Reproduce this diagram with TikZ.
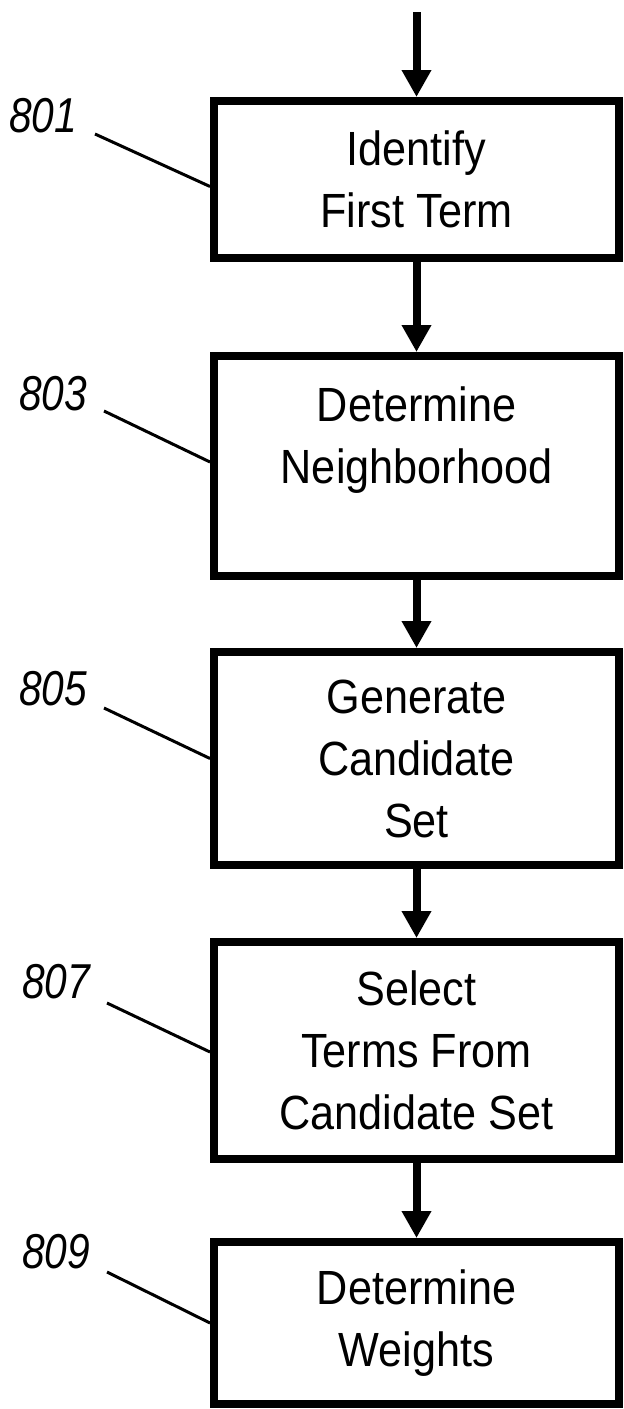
\documentclass[tikz,border=0pt]{standalone}
\usepackage{fontspec}
\setmainfont{Liberation Sans}
\newfontfamily\boxfont[FakeStretch=0.9]{Liberation Sans}
\newfontfamily\numfont[FakeStretch=0.83]{Liberation Sans}
\usetikzlibrary{arrows.meta}

\begin{document}
\begin{tikzpicture}[x=1pt,y=-1pt,
  stepbox/.style={draw=black, line width=8pt, minimum width=405pt, inner sep=0pt,
    align=center, font=\boxfont\fontsize{48}{62}\selectfont},
  flow/.style={line width=8pt, -{Triangle[width=28pt 0 0,length=27pt 0 0]}},
  leader/.style={line width=3pt},
  refnum/.style={font=\numfont\itshape\fontsize{49}{59}\selectfont, anchor=base, inner sep=0pt}]
\useasboundingbox (0,0) rectangle (624,1409);

% process steps
\node[stepbox, minimum height=157pt] (b1) at (416.5,179.5) {Identify\\First Term};
\node[stepbox, minimum height=220pt] (b2) at (416.5,466) {Determine\\Neighborhood\\\mbox{}};
\node[stepbox, minimum height=213pt] (b3) at (416.5,758.5) {Generate\\Candidate\\Set};
\node[stepbox, minimum height=217pt] (b4) at (416.5,1050.5) {Select\\Terms From\\Candidate Set};
\node[stepbox, minimum height=162pt] (b5) at (416.5,1323) {Determine\\Weights};

% flow arrows
\coordinate (entry) at (416.5,12);
\draw[flow] (entry) -- (b1.north);
\draw[flow] (b1) -- (b2);
\draw[flow] (b2) -- (b3);
\draw[flow] (b3) -- (b4);
\draw[flow] (b4) -- (b5);

% reference numerals with leader lines
\node[refnum] (r1) at (43,132) {801};
\node[refnum] (r2) at (53,410) {803};
\node[refnum] (r3) at (53,705) {805};
\node[refnum] (r4) at (56,998) {807};
\node[refnum] (r5) at (56,1268) {809};
\coordinate (r1e) at (95,134);
\coordinate (r2e) at (104,411);
\coordinate (r3e) at (104,708);
\coordinate (r4e) at (107,1003);
\coordinate (r5e) at (107,1272);
\draw[leader] (r1e) -- ([yshift=-7pt]b1.west);
\draw[leader] (r2e) -- ([yshift=4pt]b2.west);
\draw[leader] (r3e) -- (b3.west);
\draw[leader] (r4e) -- ([yshift=-1.5pt]b4.west);
\draw[leader] (r5e) -- (b5.west);
\end{tikzpicture}
\end{document}
